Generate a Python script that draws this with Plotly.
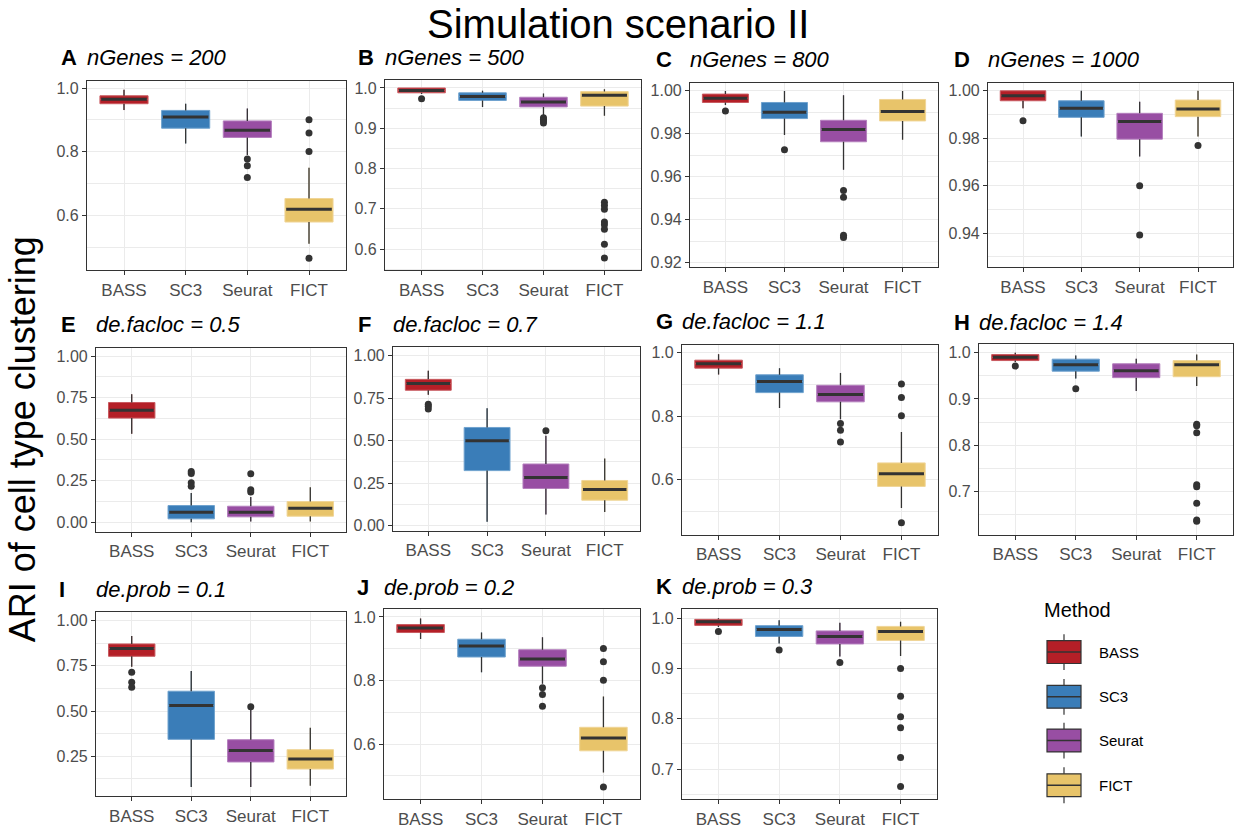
import plotly.graph_objects as go

# ---------------- data ----------------
methods = ["BASS", "SC3", "Seurat", "FICT"]

panel_letters = ["A", "B", "C", "D", "E", "F", "G", "H", "I", "J", "K"]
panel_titles = [
    "nGenes = 200", "nGenes = 500", "nGenes = 800", "nGenes = 1000",
    "de.facloc = 0.5", "de.facloc = 0.7", "de.facloc = 1.1", "de.facloc = 1.4",
    "de.prob = 0.1", "de.prob = 0.2", "de.prob = 0.3",
]

# five-number summaries (lower whisker, Q1, median, Q3, upper whisker) + outliers per method
nGenes_200 = dict(
    lower=[0.931, 0.826, 0.790, 0.511],
    q1=[0.951, 0.874, 0.845, 0.579],
    median=[0.965, 0.909, 0.868, 0.619],
    q3=[0.976, 0.930, 0.897, 0.653],
    upper=[0.995, 0.951, 0.936, 0.750],
    outliers=[[], [], [0.777, 0.756, 0.719], [0.901, 0.859, 0.801, 0.465]],
)
nGenes_500 = dict(
    lower=[0.985, 0.953, 0.932, 0.931],
    q1=[0.988, 0.969, 0.953, 0.955],
    median=[0.994, 0.979, 0.965, 0.982],
    q3=[1.000, 0.988, 0.977, 0.991],
    upper=[1.000, 0.993, 0.986, 0.997],
    outliers=[[0.973], [], [0.926, 0.922, 0.918, 0.913],
              [0.716, 0.708, 0.699, 0.667, 0.660, 0.649, 0.612, 0.578]],
)
nGenes_800 = dict(
    lower=[0.9934, 0.9795, 0.9633, 0.9772],
    q1=[0.9946, 0.9871, 0.9763, 0.9860],
    median=[0.9966, 0.9900, 0.9820, 0.9904],
    q3=[0.9985, 0.9946, 0.9863, 0.9960],
    upper=[1.0, 1.0, 0.9980, 1.0],
    outliers=[[0.9906], [0.9726], [0.9536, 0.9505, 0.9328, 0.9317], []],
)
nGenes_1000 = dict(
    lower=[0.9926, 0.9807, 0.9723, 0.9807],
    q1=[0.9958, 0.9888, 0.9796, 0.9891],
    median=[0.9979, 0.9926, 0.9870, 0.9923],
    q3=[1.0, 0.9958, 0.9905, 0.9961],
    upper=[1.0, 1.0, 0.9954, 1.0],
    outliers=[[0.9874], [], [0.9599, 0.9392], [0.9769]],
)
facloc_05 = dict(
    lower=[0.532, 0.000, 0.004, 0.004],
    q1=[0.627, 0.020, 0.032, 0.036],
    median=[0.675, 0.060, 0.060, 0.084],
    q3=[0.721, 0.100, 0.096, 0.124],
    upper=[0.771, 0.175, 0.151, 0.211],
    outliers=[[], [0.305, 0.293, 0.237, 0.217], [0.291, 0.195, 0.181], []],
)
facloc_07 = dict(
    lower=[0.770, 0.023, 0.066, 0.080],
    q1=[0.797, 0.324, 0.219, 0.150],
    median=[0.836, 0.500, 0.283, 0.213],
    q3=[0.861, 0.578, 0.363, 0.266],
    upper=[0.912, 0.691, 0.529, 0.395],
    outliers=[[0.715, 0.703, 0.686], [], [0.559], []],
)
facloc_11 = dict(
    lower=[0.931, 0.826, 0.790, 0.511],
    q1=[0.951, 0.874, 0.845, 0.579],
    median=[0.965, 0.909, 0.868, 0.619],
    q3=[0.976, 0.930, 0.897, 0.653],
    upper=[0.995, 0.951, 0.936, 0.750],
    outliers=[[], [], [0.777, 0.756, 0.719], [0.901, 0.859, 0.801, 0.465]],
)
facloc_14 = dict(
    lower=[0.980, 0.944, 0.917, 0.928],
    q1=[0.983, 0.960, 0.946, 0.948],
    median=[0.990, 0.974, 0.961, 0.974],
    q3=[0.996, 0.986, 0.976, 0.983],
    upper=[1.0, 0.994, 0.987, 0.996],
    outliers=[[0.971], [0.922], [],
              [0.845, 0.842, 0.827, 0.714, 0.710, 0.674, 0.638, 0.635]],
)
prob_01 = dict(
    lower=[0.745, 0.081, 0.081, 0.088],
    q1=[0.803, 0.344, 0.219, 0.180],
    median=[0.846, 0.531, 0.283, 0.235],
    q3=[0.871, 0.610, 0.342, 0.287],
    upper=[0.915, 0.721, 0.513, 0.408],
    outliers=[[0.715, 0.660, 0.632], [], [0.524], []],
)
prob_02 = dict(
    lower=[0.931, 0.826, 0.790, 0.511],
    q1=[0.951, 0.874, 0.845, 0.579],
    median=[0.965, 0.909, 0.868, 0.619],
    q3=[0.976, 0.930, 0.897, 0.653],
    upper=[0.995, 0.951, 0.936, 0.750],
    outliers=[[], [], [0.777, 0.756, 0.719], [0.901, 0.859, 0.801, 0.465]],
)
prob_03 = dict(
    lower=[0.983, 0.950, 0.924, 0.925],
    q1=[0.986, 0.964, 0.949, 0.956],
    median=[0.993, 0.978, 0.964, 0.974],
    q3=[0.998, 0.9855, 0.975, 0.984],
    upper=[1.0, 0.996, 0.991, 0.993],
    outliers=[[0.974], [0.937], [0.912], [0.900, 0.845, 0.804, 0.782, 0.723, 0.665]],
)

y_ranges = [
    [0.427, 1.024], [0.547, 1.021], [0.9178, 1.0039], [0.9255, 1.0035],
    [-0.058, 1.05], [-0.03, 1.052], [0.427, 1.024], [0.606, 1.019],
    [0.03, 1.046], [0.427, 1.024], [0.640, 1.018],
]
y_dticks = [0.2, 0.1, 0.02, 0.02, 0.25, 0.25, 0.2, 0.1, 0.25, 0.2, 0.1]
y_formats = [".1f", ".1f", ".2f", ".2f", ".2f", ".2f", ".1f", ".1f", ".2f", ".1f", ".1f"]

# ---------------- styling ----------------
W, H = 1234, 830
FONT = "Liberation Sans, Arial, Helvetica, sans-serif"
DARK = "#333333"
method_colors = ["#B41F27", "#3A7DB8", "#984EA3", "#E8C46A"]
method_edges = ["#C85A60", "#6FA2CE", "#B47FBD", "#F0D597"]

# panel plot areas in pixels: (left, right, top, bottom)
panel_px = [
    (87, 346, 80, 271), (385, 641, 79, 271), (690, 938, 82, 268), (988, 1233, 82, 268),
    (96, 346, 349, 534), (393, 640, 348, 533), (682, 938, 346, 537), (979, 1233, 345, 537),
    (96, 346, 615, 800), (384, 640, 612, 803), (682, 937, 612, 803),
]
letter_x = [59, 356, 654, 952, 59, 356, 654, 952, 57, 355, 654]
title_y = [57, 57, 59, 59, 325, 325, 322, 323, 592, 590, 589]

panels = [nGenes_200, nGenes_500, nGenes_800, nGenes_1000,
          facloc_05, facloc_07, facloc_11, facloc_14,
          prob_01, prob_02, prob_03]

BOX_W = 0.78


def px(x):
    return x / W


def py(y):
    return 1 - y / H


fig = go.Figure()
layout_axes = {}
annotations = []

for k, p in enumerate(panels):
    suffix = "" if k == 0 else str(k + 1)
    xref, yref = "x" + suffix, "y" + suffix

    # boxes
    for i, m in enumerate(methods):
        fig.add_trace(go.Box(
            x=[i], q1=[p["q1"][i]], median=[p["median"][i]], q3=[p["q3"][i]],
            lowerfence=[p["lower"][i]], upperfence=[p["upper"][i]],
            width=BOX_W, whiskerwidth=0, boxpoints=False,
            fillcolor=method_colors[i], line=dict(color=method_edges[i], width=1),
            name=m, showlegend=False, hoverinfo="skip",
            xaxis=xref, yaxis=yref,
        ))

    # whiskers, medians and outliers
    wx, wy, mx, my, ox, oy = [], [], [], [], [], []
    for i in range(len(methods)):
        wx += [i, i, None, i, i, None]
        wy += [p["lower"][i], p["q1"][i], None, p["q3"][i], p["upper"][i], None]
        mx += [i - BOX_W / 2 + 0.02, i + BOX_W / 2 - 0.02, None]
        my += [p["median"][i], p["median"][i], None]
        ox += [i] * len(p["outliers"][i])
        oy += p["outliers"][i]
    fig.add_trace(go.Scatter(x=wx, y=wy, mode="lines", line=dict(color=DARK, width=1.3),
                             showlegend=False, hoverinfo="skip", xaxis=xref, yaxis=yref))
    fig.add_trace(go.Scatter(x=mx, y=my, mode="lines", line=dict(color=DARK, width=3),
                             showlegend=False, hoverinfo="skip", xaxis=xref, yaxis=yref))
    fig.add_trace(go.Scatter(x=ox, y=oy, mode="markers", marker=dict(color=DARK, size=7),
                             showlegend=False, hoverinfo="skip", xaxis=xref, yaxis=yref))

    x0, x1, y0, y1 = panel_px[k]
    common = dict(
        showline=True, mirror=True, linecolor=DARK, linewidth=1.2,
        ticks="outside", ticklen=4, tickwidth=1, tickcolor=DARK,
        showgrid=True, gridcolor="#EBEBEB", gridwidth=1.4, zeroline=False,
        fixedrange=True,
    )
    layout_axes["xaxis" + suffix] = dict(
        domain=[px(x0), px(x1)], anchor=yref, range=[-0.6, 3.6],
        tickmode="array", tickvals=[0, 1, 2, 3], ticktext=methods,
        tickfont=dict(family=FONT, size=17, color="#4D4D4D"), **common,
    )
    d = y_dticks[k]
    layout_axes["yaxis" + suffix] = dict(
        domain=[py(y1), py(y0)], anchor=xref, range=y_ranges[k],
        tick0=0, dtick=d, tickformat=y_formats[k],
        tickfont=dict(family=FONT, size=16, color="#4D4D4D"),
        minor=dict(tick0=0, dtick=d / 2, showgrid=True, gridcolor="#EBEBEB", gridwidth=0.7),
        **common,
    )

    # panel letter and title
    annotations.append(dict(
        x=px(letter_x[k]), y=py(title_y[k]), xref="paper", yref="paper",
        xanchor="left", yanchor="middle", showarrow=False,
        text="<b>" + panel_letters[k] + "</b>",
        font=dict(family=FONT, size=22, color="black"),
    ))
    annotations.append(dict(
        x=px(x0 - 2), y=py(title_y[k]), xref="paper", yref="paper",
        xanchor="left", yanchor="middle", showarrow=False,
        text="<i>" + panel_titles[k] + "</i>",
        font=dict(family=FONT, size=22, color="black"),
    ))

# overall title and shared y label
annotations.append(dict(
    x=px(618), y=1.0, xref="paper", yref="paper", xanchor="center", yanchor="top",
    showarrow=False, text="Simulation scenario II", borderpad=0,
    font=dict(family=FONT, size=40, color="black"),
))
annotations.append(dict(
    x=px(22), y=py(441), xref="paper", yref="paper", xanchor="center", yanchor="middle",
    showarrow=False, textangle=-90, text="ARI of cell type clustering",
    font=dict(family=FONT, size=36, color="black"),
))

# legend for the methods
shapes = []
annotations.append(dict(
    x=px(1042), y=py(613), xref="paper", yref="paper", xanchor="left", yanchor="middle",
    showarrow=False, text="Method", font=dict(family=FONT, size=20, color="black"),
))
legend_y = [655, 700, 744, 789]
for i, m in enumerate(methods):
    c = legend_y[i]
    shapes.append(dict(type="line", xref="paper", yref="paper",
                       x0=px(1064), x1=px(1064), y0=py(c - 18), y1=py(c + 18),
                       line=dict(color=DARK, width=1.2)))
    shapes.append(dict(type="rect", xref="paper", yref="paper",
                       x0=px(1047), x1=px(1081), y0=py(c + 11.5), y1=py(c - 11.5),
                       fillcolor=method_colors[i], line=dict(color=DARK, width=1.2)))
    shapes.append(dict(type="line", xref="paper", yref="paper",
                       x0=px(1047), x1=px(1081), y0=py(c), y1=py(c),
                       line=dict(color=DARK, width=1.4)))
    annotations.append(dict(
        x=px(1097), y=py(c), xref="paper", yref="paper", xanchor="left", yanchor="middle",
        showarrow=False, text=m, font=dict(family=FONT, size=15, color="black"),
    ))

fig.update_layout(
    width=W, height=H, autosize=False,
    margin=dict(l=0, r=0, t=0, b=0),
    paper_bgcolor="white", plot_bgcolor="white",
    font=dict(family=FONT),
    showlegend=False, boxmode="overlay",
    annotations=annotations, shapes=shapes,
    **layout_axes,
)

fig.write_html("out.html")
